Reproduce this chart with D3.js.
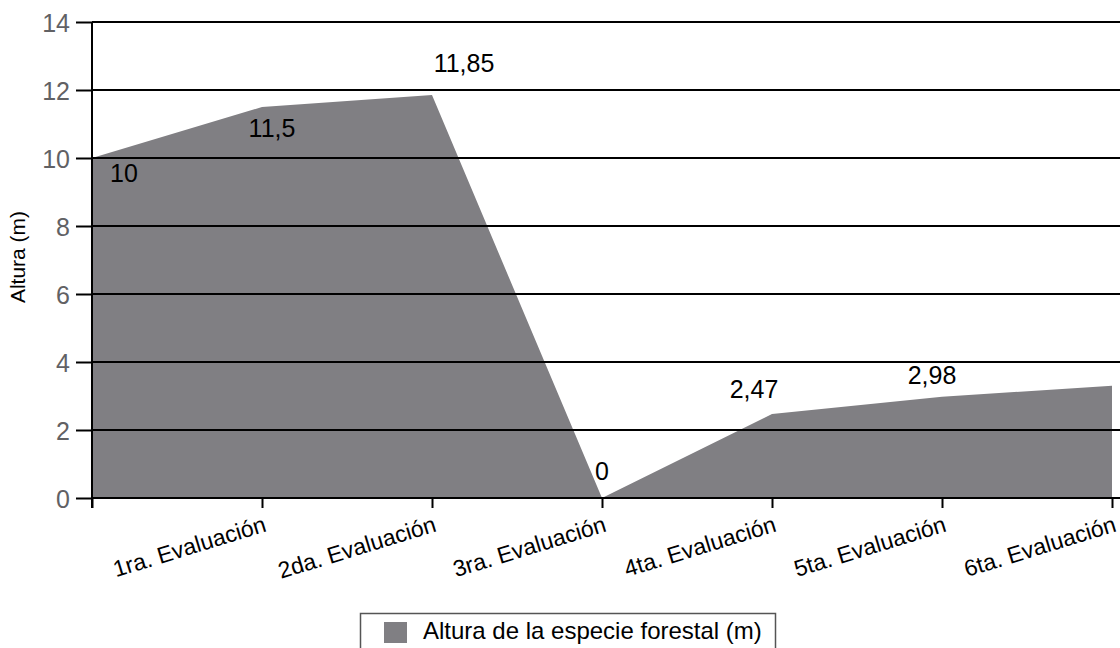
<!DOCTYPE html>
<html>
<head>
<meta charset="utf-8">
<script src="https://cdn.jsdelivr.net/npm/d3@7/dist/d3.min.js"></script>
<style>
  html, body { margin: 0; padding: 0; background: #fff; }
  svg { display: block; font-family: "Liberation Sans", Arial, Helvetica, sans-serif; }
</style>
</head>
<body>
<svg id="chart" width="1120" height="648"></svg>
<script>
// Categories along the x axis (the first point is the starting height, unlabelled)
const categories = ["", "1ra. Evaluación", "2da. Evaluación", "3ra. Evaluación",
                    "4ta. Evaluación", "5ta. Evaluación", "6ta. Evaluación"];
// Height of the forest species (m) at each evaluation
const alturas = [10, 11.5, 11.85, 0, 2.47, 2.98, 3.3];
// Text shown next to each point (null = no label)
const valueLabels = ["10", "11,5", "11,85", "0", "2,47", "2,98", null];
// Y axis ticks
const yTicks = [0, 2, 4, 6, 8, 10, 12, 14];
const seriesName = "Altura de la especie forestal (m)";
const yTitle = "Altura (m)";

// Placement of each value label relative to its point [dx, dy]
const labelOffsets = [[32, 24], [10, 30], [32, -23], [0, -18], [-18, -16], [-10, -13], [0, -14]];

const svg = d3.select("#chart");
const W = 1120;
const plot = { left: 92, right: 1112, top: 22, bottom: 498 };

const x = d3.scalePoint().domain(categories.map((c, i) => i)).range([plot.left, plot.right]);
const y = d3.scaleLinear().domain([0, 14]).range([plot.bottom, plot.top]);

const data = alturas.map((v, i) => ({ i, v, cat: categories[i], label: valueLabels[i] }));

// Filled area
const area = d3.area()
  .x(d => x(d.i))
  .y0(y(0))
  .y1(d => y(d.v));

svg.append("path")
  .datum(data)
  .attr("d", area)
  .attr("fill", "#807f83");

// Horizontal gridlines drawn over the area
svg.append("g")
  .selectAll("line")
  .data(yTicks.filter(t => t > 0))
  .join("line")
  .attr("x1", plot.left)
  .attr("x2", W)
  .attr("y1", d => y(d))
  .attr("y2", d => y(d))
  .attr("stroke", "#000")
  .attr("stroke-width", 2);

// Y axis
const yAxis = d3.axisLeft(y).tickValues(yTicks).tickSize(16).tickPadding(6).tickFormat(d3.format("d"));
const gy = svg.append("g")
  .attr("transform", `translate(${plot.left},0)`)
  .call(yAxis);
gy.select(".domain").remove();
gy.selectAll(".tick line").attr("stroke", "#000").attr("stroke-width", 2);
gy.selectAll(".tick text")
  .attr("fill", "#616164")
  .style("font-size", "25px")
  .attr("dy", "0.36em");

// Y axis line (runs a bit below the baseline)
svg.append("line")
  .attr("x1", plot.left).attr("x2", plot.left)
  .attr("y1", y(14)).attr("y2", plot.bottom + 10)
  .attr("stroke", "#000").attr("stroke-width", 2);

// X axis
const xAxis = d3.axisBottom(x).tickSize(10).tickFormat(i => categories[i]);
const gx = svg.append("g")
  .attr("transform", `translate(0,${plot.bottom})`)
  .call(xAxis);
gx.select(".domain").attr("stroke", "#000").attr("stroke-width", 2)
  .attr("d", `M${plot.left},0H${W}`);
gx.selectAll(".tick line").attr("stroke", "#000").attr("stroke-width", 2);
gx.selectAll(".tick text")
  .attr("fill", "#000")
  .style("font-size", "23px")
  .attr("text-anchor", "end")
  .attr("dy", null)
  .attr("y", 0)
  .attr("transform", "translate(5,33) rotate(-17)");

// Value labels
svg.append("g")
  .selectAll("text")
  .data(data.filter(d => d.label !== null))
  .join("text")
  .attr("x", d => x(d.i) + labelOffsets[d.i][0])
  .attr("y", d => y(d.v) + labelOffsets[d.i][1])
  .attr("text-anchor", "middle")
  .attr("fill", "#000")
  .style("font-size", "25px")
  .text(d => d.label);

// Y axis title
svg.append("text")
  .attr("transform", `translate(25,257) rotate(-90)`)
  .attr("text-anchor", "middle")
  .attr("fill", "#000")
  .style("font-size", "21px")
  .text(yTitle);

// Legend
const legend = svg.append("g");
legend.append("rect")
  .attr("x", 360.5).attr("y", 613.5)
  .attr("width", 415).attr("height", 50)
  .attr("fill", "#fff")
  .attr("stroke", "#555")
  .attr("stroke-width", 1.5);
legend.append("rect")
  .attr("x", 384).attr("y", 622)
  .attr("width", 23).attr("height", 21)
  .attr("fill", "#807f83");
legend.append("text")
  .attr("x", 423).attr("y", 639)
  .attr("fill", "#000")
  .style("font-size", "24px")
  .text(seriesName);
</script>
</body>
</html>
